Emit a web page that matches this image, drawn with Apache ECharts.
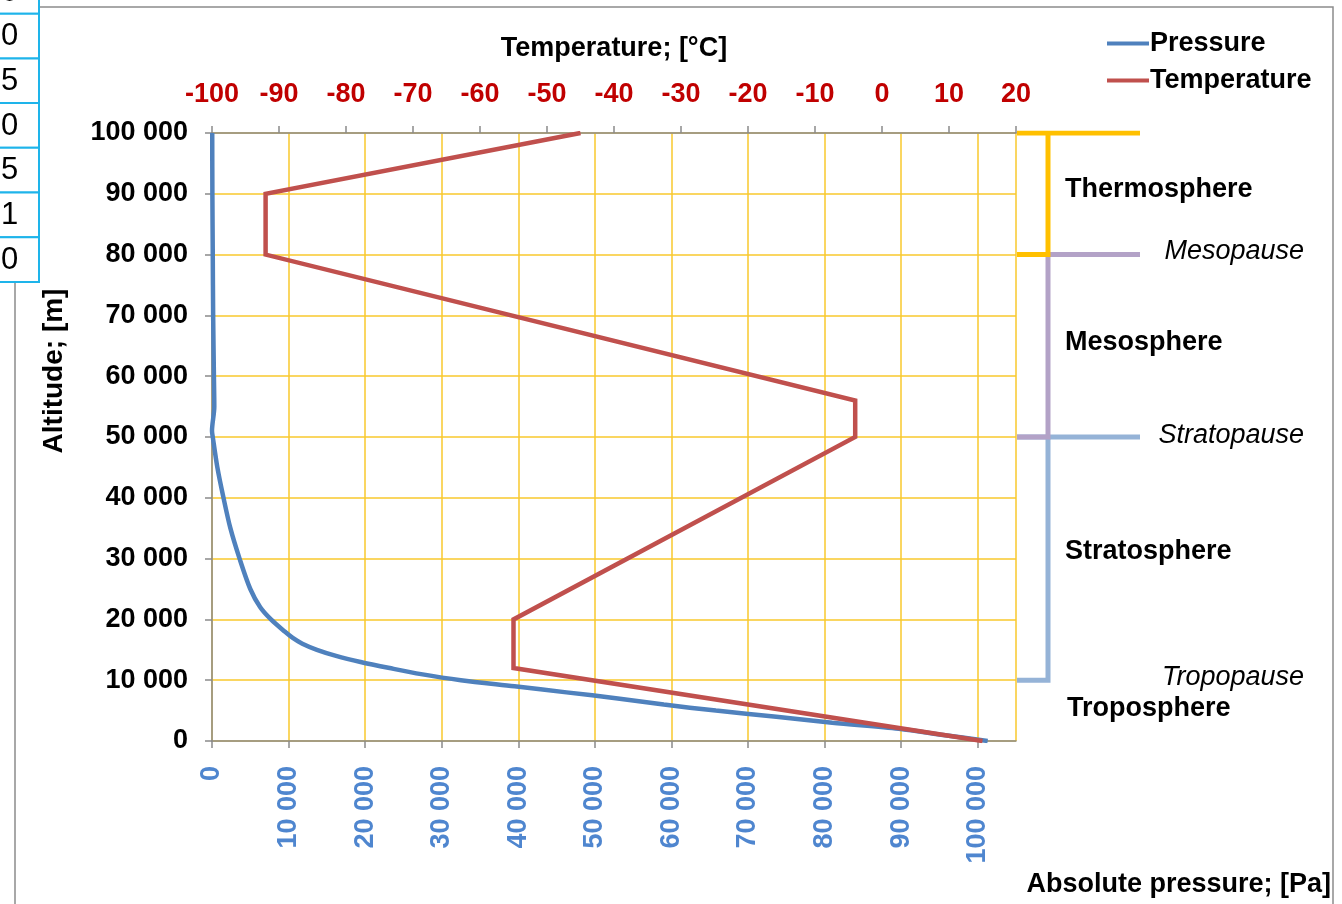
<!DOCTYPE html>
<html>
<head>
<meta charset="utf-8">
<script src="https://cdn.jsdelivr.net/npm/echarts@6/dist/echarts.min.js"></script>
<style>
html,body{margin:0;padding:0;background:#fff;}
#c{width:1342px;height:904px;}
</style>
</head>
<body>
<div id="c"></div>
<script>
// ---------- data ----------
const seriesNames = ['Pressure', 'Temperature'];
// Pressure profile
const pressureAltitude = [0, 1000, 2000, 3000, 4000, 5000, 6000, 7000, 8000, 9000, 10000, 11000, 12000, 13000, 14000, 15000, 16000, 17000, 18000, 20000, 22000, 25000, 30000, 35000, 40000, 45000, 50000, 51000, 55000, 60000, 70000, 80000, 90000, 100000];
const pressureValues   = [101300, 95500, 89700, 81000, 73700, 65800, 59000, 53000, 46300, 39500, 32500, 27300, 23200, 19400, 16200, 13700, 11800, 10500, 9500, 7700, 6300, 5000, 3600, 2400, 1500, 700, 100, 0, 300, 250, 150, 100, 50, 30];
// Temperature profile
const temperatureAltitude = [0, 12000, 20000, 50000, 56000, 80000, 90000, 100000];
const temperatureValues   = [15, -55, -55, -4, -4, -92, -92, -45];
// Layer annotations
const layerNames = ['Thermosphere', 'Mesosphere', 'Stratosphere'];
const layerTop = [100000, 80000, 50000];
const layerBottom = [80000, 50000, 10000];
const boundaryNames = ['Mesopause', 'Stratopause', 'Tropopause'];
const boundaryAltitude = [80000, 50000, 10000];
const troposphereName = 'Troposphere';
// tick labels
const altitudeTicks = [0, 10000, 20000, 30000, 40000, 50000, 60000, 70000, 80000, 90000, 100000];
const temperatureTicks = [-100, -90, -80, -70, -60, -50, -40, -30, -20, -10, 0, 10, 20];
const pressureTicks = [0, 10000, 20000, 30000, 40000, 50000, 60000, 70000, 80000, 90000, 100000];
const cornerDigits = ['0', '0', '5', '0', '5', '1', '0'];

// ---------- layout / style ----------
const FONT = '"Liberation Sans", Arial, sans-serif';
const FS = 27;
const layerColors = ['#FFC000', '#B3A2C7', '#95B3D7'];
const layerLabelAlt = [90700, 65500, 31100];
const boundaryLabelAlt = [80500, 50200, 10400];
const tropoLabelAlt = 5400;
const bracketStem = 32, bracketEnd = 124, bracketStart = 1;

function spaced(v) {
  return String(v).replace(/\B(?=(\d{3})+(?!\d))/g, ' ');
}

const chart = echarts.init(document.getElementById('c'), null, {renderer: 'canvas'});

const bracketSeries = layerNames.map(function (n, i) {
  return {
    type: 'line', xAxisIndex: 2, yAxisIndex: 1, silent: true, symbol: 'none',
    lineStyle: {color: layerColors[i], width: 5, cap: 'butt', join: 'miter'},
    itemStyle: {color: layerColors[i]},
    data: [[bracketStart, layerTop[i]], [bracketEnd, layerTop[i]], [bracketStem, layerTop[i]], [bracketStem, layerBottom[i]], [bracketStart, layerBottom[i]]],
    z: 3 + (layerNames.length - i)
  };
});

const labelData = [];
layerNames.forEach(function (n, i) {
  labelData.push({name: n, value: [49, layerLabelAlt[i]], label: {position: 'right', color: '#000', fontWeight: 'bold', fontStyle: 'normal'}});
});
boundaryNames.forEach(function (n, i) {
  labelData.push({name: n, value: [288, boundaryLabelAlt[i]], label: {position: 'left', color: '#000', fontWeight: 'normal', fontStyle: 'italic'}});
});
labelData.push({name: troposphereName, value: [51, tropoLabelAlt], label: {position: 'right', color: '#000', fontWeight: 'bold', fontStyle: 'normal'}});

const graphics = [
  {type: 'rect', shape: {x: 15, y: 7, width: 1318, height: 960}, style: {fill: 'none', stroke: '#8c8c8c', lineWidth: 1.5}, z: 0, silent: true},
  {type: 'text', style: {text: 'Altitude; [m]', x: 0, y: 0, fill: '#000', font: 'bold 28px ' + FONT, textAlign: 'center', textVerticalAlign: 'middle'}, x: 54, y: 371, rotation: Math.PI / 2, silent: true},
  {type: 'text', style: {text: 'Absolute pressure; [Pa]', x: 1331, y: 885, fill: '#000', font: 'bold ' + FS + 'px ' + FONT, textAlign: 'right', textVerticalAlign: 'middle'}, silent: true}
];
cornerDigits.forEach(function (d, i) {
  const y0 = -31 + i * 44.7;
  graphics.push({type: 'rect', shape: {x: -5, y: y0, width: 44, height: 44.7}, style: {fill: '#fff', stroke: '#1EB4EA', lineWidth: 2}, z: 10, silent: true});
  graphics.push({type: 'text', style: {text: d, x: 1, y: y0 + 23, fill: '#000', font: '31px ' + FONT, textAlign: 'left', textVerticalAlign: 'middle'}, z: 11, silent: true});
});

const option = {
  animation: false,
  backgroundColor: '#fff',
  textStyle: {fontFamily: FONT},
  grid: [
    {left: 212, top: 133, right: 326, bottom: 163, containLabel: false},
    {left: 1016, top: 133, right: 0, bottom: 163, containLabel: false}
  ],
  legend: {
    data: seriesNames, orient: 'vertical', left: 1102, top: 25, itemGap: 10,
    itemWidth: 42, itemHeight: 4, icon: 'rect',
    textStyle: {fontFamily: FONT, fontSize: FS, fontWeight: 'bold', color: '#000', padding: [0, 0, 0, -4]},
    selectedMode: false
  },
  xAxis: [
    {
      type: 'value', gridIndex: 0, position: 'bottom', min: 0, max: 105000, interval: 10000,
      axisLine: {show: true, onZero: false, lineStyle: {color: '#8a8a8a', width: 1.5}},
      axisTick: {show: true, length: 7, lineStyle: {color: '#8a8a8a', width: 1.5}},
      axisLabel: {
        rotate: 90, margin: 25, color: '#4F86CF', fontFamily: FONT, fontSize: FS, fontWeight: 'bold',
        showMaxLabel: false,
        formatter: function (v) { return pressureTicks.indexOf(v) >= 0 ? spaced(v) : ''; }
      },
      splitLine: {show: true, lineStyle: {color: '#F8C82C', width: 1.5}}
    },
    {
      type: 'value', gridIndex: 0, position: 'top', min: -100, max: 20, interval: 10,
      name: 'Temperature; [°C]', nameLocation: 'middle', nameGap: 71,
      nameTextStyle: {fontFamily: FONT, fontSize: FS, fontWeight: 'bold', color: '#000'},
      axisLine: {show: true, onZero: false, lineStyle: {color: '#8a8a8a', width: 1.5}},
      axisTick: {show: true, length: 7, lineStyle: {color: '#8a8a8a', width: 1.5}},
      axisLabel: {
        margin: 25, color: '#C00000', fontFamily: FONT, fontSize: FS, fontWeight: 'bold',
        formatter: function (v) { return temperatureTicks.indexOf(v) >= 0 ? String(v) : ''; }
      },
      splitLine: {show: false}
    },
    {
      type: 'value', gridIndex: 1, min: 0, max: 326, show: false
    }
  ],
  yAxis: [
    {
      type: 'value', gridIndex: 0, min: 0, max: 100000, interval: 10000,
      axisLine: {show: true, onZero: false, lineStyle: {color: '#8a8a8a', width: 1.5}},
      axisTick: {show: true, length: 7, lineStyle: {color: '#8a8a8a', width: 1.5}},
      axisLabel: {
        margin: 24, color: '#000', fontFamily: FONT, fontSize: FS, fontWeight: 'bold',
        formatter: function (v) { return altitudeTicks.indexOf(v) >= 0 ? spaced(v) : ''; }
      },
      splitLine: {show: true, lineStyle: {color: '#F8C82C', width: 1.5}}
    },
    {
      type: 'value', gridIndex: 1, min: 0, max: 100000, show: false
    }
  ],
  series: [
    {
      name: seriesNames[0], type: 'line', xAxisIndex: 0, yAxisIndex: 0,
      showSymbol: false, symbol: 'none', smooth: 0.3,
      lineStyle: {color: '#4F81BD', width: 4.5},
      itemStyle: {color: '#4F81BD'},
      data: pressureAltitude.map(function (a, i) { return [pressureValues[i], a]; }),
      z: 4
    },
    {
      name: seriesNames[1], type: 'line', xAxisIndex: 1, yAxisIndex: 0,
      showSymbol: false, symbol: 'none', smooth: false,
      lineStyle: {color: '#C0504D', width: 4.5, join: 'miter'},
      itemStyle: {color: '#C0504D'},
      data: temperatureAltitude.map(function (a, i) { return [temperatureValues[i], a]; }),
      z: 5
    }
  ].concat(bracketSeries).concat([{
    type: 'scatter', xAxisIndex: 2, yAxisIndex: 1, silent: true,
    symbolSize: 0, itemStyle: {color: '#000', opacity: 1},
    label: {show: true, distance: 0, formatter: '{b}', color: '#000', opacity: 1, fontFamily: FONT, fontSize: FS},
    emphasis: {disabled: true},
    data: labelData, z: 8
  }]),
  graphic: graphics
};
chart.setOption(option);
</script>
</body>
</html>
